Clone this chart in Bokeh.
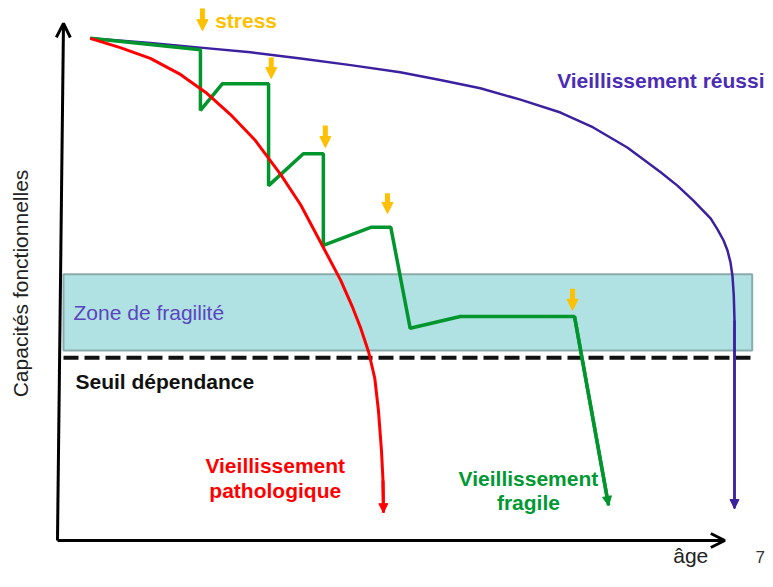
from bokeh.plotting import figure
from bokeh.models import Range1d, Arrow, NormalHead, OpenHead, ColumnDataSource
from bokeh.core.properties import value
from bokeh.embed import file_html
from bokeh.resources import INLINE

# ---- data (chart units: age 0-100 on x, functional capacity 0-100 on y) ----
blue_age = [4.9, 13.9, 21.4, 28.9, 36.4, 43.9, 51.3, 57.3, 63.3, 69.3, 75.3, 80.2, 85.3, 90.3, 92.8,
            95.2, 97.8, 98.8, 99.7, 100.3, 100.75, 101.05, 101.24, 101.35, 101.35]
blue_cap = [97.5, 96.6, 95.7, 94.8, 93.6, 92.3, 90.9, 89.4, 87.8, 85.6, 83.1, 80.2, 76.3, 71.5, 68.9,
            66.0, 62.5, 60.4, 58.3, 56.3, 54.0, 51.3, 47.6, 42.7, 6.2]

red_age = [4.9, 9.4, 13.9, 18.4, 22.2, 25.9, 29.6, 33.4, 36.4, 39.8, 42.4, 44.2, 45.4, 46.6,
           47.5, 48.05, 48.5, 48.73, 48.8]
red_cap = [97.5, 95.7, 93.6, 90.5, 87.0, 82.7, 77.7, 71.1, 65.2, 56.9, 50.5, 45.2, 41.2, 36.5,
           31.5, 25.2, 17.5, 11.65, 5.4]

green_age = [4.9, 21.4, 21.4, 24.7, 31.6, 31.6, 36.8, 39.8, 39.8, 46.9, 49.9, 52.8, 60.3, 77.4, 82.5]
green_cap = [97.5, 95.3, 83.5, 88.7, 88.7, 68.9, 75.1, 75.1, 57.3, 60.8, 60.8, 41.2, 43.5, 43.5, 6.8]

stress_age = [21.7, 32.0, 40.1, 49.4, 77.1]
stress_top = [103.3, 93.8, 80.6, 67.4, 48.9]
stress_bottom = [99.0, 89.7, 76.3, 63.5, 44.7]

zone_left, zone_right = 0.9, 104.0
zone_bottom, zone_top = 36.9, 51.7
threshold = 35.5

axis_x_end = 99.9
axis_y_end = 100.4
axis_y_top_age = 0.9

# ---- colours ----
BLUE = "#3D20A0"
RED = "#FF0000"
GREEN = "#00962D"
ORANGE = "#FFC000"
FONT = value("Liberation Sans")

p = figure(width=765, height=571,
           x_range=Range1d(-8.53, 105.99), y_range=Range1d(-6.02, 104.85),
           x_axis_type=None, y_axis_type=None,
           output_backend="svg", toolbar_location=None, min_border=0)
p.grid.visible = False
p.outline_line_color = None
p.background_fill_color = "white"
p.border_fill_color = "white"

# fragility zone
p.quad(left=[zone_left], right=[zone_right], bottom=[zone_bottom], top=[zone_top],
       fill_color="#B0E1E3", line_color="#8AACAC", line_width=2)
# dependency threshold
p.line([zone_left, zone_right], [threshold, threshold], line_color="#111111",
       line_width=4, line_dash="15 6")

# axes
p.add_layout(Arrow(x_start=0, y_start=0, x_end=axis_x_end, y_end=0,
                   line_color="black", line_width=3,
                   end=OpenHead(size=14, line_color="black", line_width=3)))
p.add_layout(Arrow(x_start=0, y_start=0, x_end=axis_y_top_age, y_end=axis_y_end,
                   line_color="black", line_width=3,
                   end=OpenHead(size=14, line_color="black", line_width=3)))

# curves
p.line(blue_age, blue_cap, line_color=BLUE, line_width=2.5, line_join="round")
p.line(green_age, green_cap, line_color=GREEN, line_width=3.5)
p.line(red_age, red_cap, line_color=RED, line_width=3, line_join="round")

for xs, ys, col, lw in [(blue_age, blue_cap, BLUE, 2.5), (green_age, green_cap, GREEN, 3.5),
                        (red_age, red_cap, RED, 3)]:
    p.add_layout(Arrow(x_start=xs[-2], y_start=ys[-2], x_end=xs[-1], y_end=ys[-1],
                       line_color=col, line_width=lw,
                       end=NormalHead(size=9, fill_color=col, line_color=col, line_width=1)))

# stress arrows
stress_src = ColumnDataSource(dict(x0=stress_age, y0=stress_top, x1=stress_age, y1=stress_bottom))
p.add_layout(Arrow(source=stress_src, x_start="x0", y_start="y0", x_end="x1", y_end="y1",
                   line_color=ORANGE, line_width=5,
                   end=NormalHead(size=11, fill_color=ORANGE, line_color=ORANGE, line_width=1)))

# texts
def label(x, y, t, color, size="21px", style="bold", align="left", angle=0.0):
    p.text(x=[x], y=[y], text=[t], text_color=color, text_font=FONT,
           text_font_size=size, text_font_style=style, text_align=align,
           text_baseline="middle", angle=angle)

label(23.6, 101.0, "stress", ORANGE)
label(74.8, 89.3, "Vieillissement réussi", "#4B2DB5")
label(2.4, 44.3, "Zone de fragilité", "#5B45BE", style="normal")
label(2.7, 30.9, "Seuil dépendance", "#111111")
label(32.6, 14.6, "Vieillissement", RED, align="center")
label(32.6, 9.7, "pathologique", RED, align="center")
label(70.5, 12.0, "Vieillissement", "#009933", align="center")
label(70.5, 7.4, "fragile", "#009933", align="center")
label(94.8, -2.9, "âge", "#222222", style="normal", align="center")
label(105.9, -3.3, "7", "#333333", size="17px", style="normal", align="right")
label(-5.5, 49.9, "Capacités fonctionnelles", "#222222", size="21px", style="normal",
      align="center", angle=1.5708)

open("out.html", "w").write(file_html(p, INLINE))
